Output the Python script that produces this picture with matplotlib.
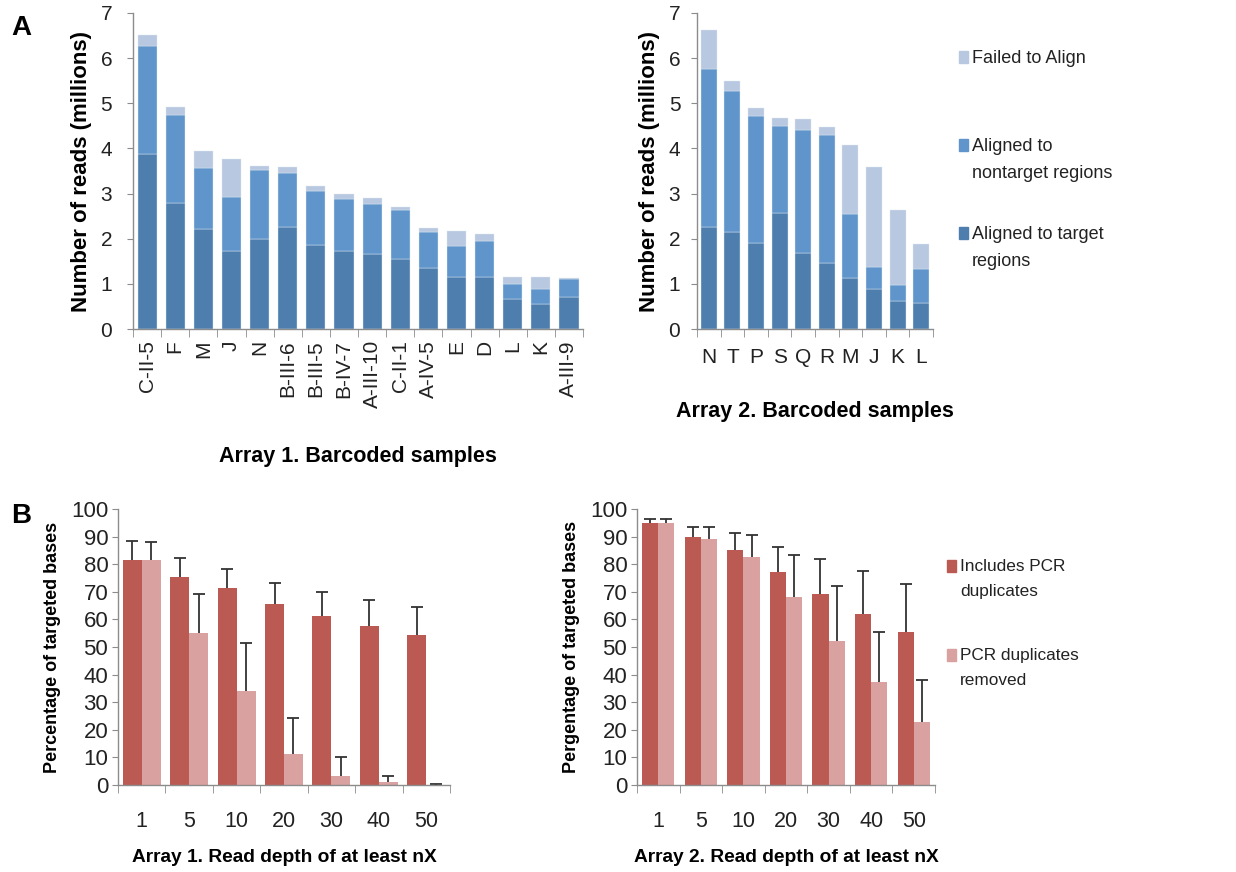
import matplotlib
matplotlib.use("Agg")
import matplotlib.pyplot as plt
import numpy as np
from matplotlib.patches import Rectangle

plt.rcParams['font.family'] = ['Liberation Sans', 'DejaVu Sans']

# ---- Data ----
a1_samples = ["C-II-5", "F", "M", "J", "N", "B-III-6", "B-III-5", "B-IV-7",
              "A-III-10", "C-II-1", "A-IV-5", "E", "D", "L", "K", "A-III-9"]
a1_target = [3.88, 2.80, 2.22, 1.72, 2.00, 2.27, 1.87, 1.72, 1.67, 1.56, 1.35, 1.16, 1.16, 0.66, 0.55, 0.70]
a1_nontarget = [2.40, 1.95, 1.34, 1.20, 1.52, 1.18, 1.18, 1.16, 1.11, 1.07, 0.80, 0.68, 0.79, 0.34, 0.33, 0.40]
a1_failed = [0.24, 0.17, 0.39, 0.84, 0.10, 0.13, 0.12, 0.12, 0.12, 0.07, 0.08, 0.32, 0.15, 0.16, 0.27, 0.03]

a2_samples = ["N", "T", "P", "S", "Q", "R", "M", "J", "K", "L"]
a2_target = [2.26, 2.14, 1.90, 2.58, 1.68, 1.47, 1.12, 0.88, 0.62, 0.58]
a2_nontarget = [3.49, 3.14, 2.82, 1.92, 2.72, 2.83, 1.43, 0.50, 0.35, 0.74]
a2_failed = [0.87, 0.22, 0.18, 0.17, 0.26, 0.18, 1.53, 2.20, 1.66, 0.56]

depths = ["1", "5", "10", "20", "30", "40", "50"]
b1_incl = [81.5, 75.3, 71.2, 65.6, 61.1, 57.5, 54.3]
b1_incl_err = [6.8, 6.9, 7.1, 7.7, 8.9, 9.6, 10.3]
b1_rem = [81.5, 55.2, 34.0, 11.2, 3.3, 1.0, 0.15]
b1_rem_err = [6.5, 14.0, 17.6, 13.1, 6.7, 2.2, 0.35]

b2_incl = [94.8, 89.8, 85.2, 77.0, 69.2, 62.0, 55.3]
b2_incl_err = [1.5, 3.7, 6.1, 9.4, 12.8, 15.7, 17.7]
b2_rem = [94.8, 89.0, 82.6, 68.2, 52.3, 37.3, 23.0]
b2_rem_err = [1.5, 4.3, 7.8, 15.2, 19.7, 18.3, 15.0]

# ---- Styling ----
C_TARGET = '#4d7eae'
C_NONTARGET = '#5f95cb'
C_FAILED = '#b7c8e0'
C_INCL = '#bb5a53'
C_REM = '#d9a19f'
AX_COL = '#8c8c8c'

W, H = 1236, 872
fig = plt.figure(figsize=(W / 100, H / 100), dpi=100)


def px_axes(l, r, t, b):
    return fig.add_axes([l / W, (H - b) / H, (r - l) / W, (b - t) / H])


def style(ax, ysize, ypad):
    for s in ['top', 'right']:
        ax.spines[s].set_visible(False)
    for s in ['left', 'bottom']:
        ax.spines[s].set_color(AX_COL)
        ax.spines[s].set_linewidth(1.0)
    ax.tick_params(axis='y', colors=AX_COL, labelcolor='#222222', length=4, labelsize=ysize, pad=ypad)
    ax.tick_params(axis='x', which='both', colors=AX_COL, labelcolor='#222222')


def stacked(ax, names, t, n, f, rot, xsize, ypad):
    x = np.arange(len(names))
    t = np.array(t); n = np.array(n); f = np.array(f)
    ax.bar(x, t, width=0.68, color=C_TARGET, edgecolor='#dfe8f2', linewidth=0.3)
    ax.bar(x, n, bottom=t, width=0.68, color=C_NONTARGET, edgecolor='#dfe8f2', linewidth=0.3)
    ax.bar(x, f, bottom=t + n, width=0.68, color=C_FAILED, edgecolor='#dfe8f2', linewidth=0.3)
    ax.set_xlim(-0.5, len(names) - 0.5)
    ax.set_ylim(0, 7)
    ax.set_yticks(range(0, 8))
    ax.set_xticks(x)
    ax.set_xticklabels(names, rotation=rot, fontsize=xsize)
    ax.tick_params(axis='x', which='major', length=0, pad=8)
    ax.set_xticks(np.arange(len(names) + 1) - 0.5, minor=True)
    ax.tick_params(axis='x', which='minor', length=6)
    ax.set_ylabel('Number of reads (millions)', fontsize=16, fontweight='bold', labelpad=6)
    style(ax, 15, ypad)


ax1 = px_axes(133, 583, 13, 329)
stacked(ax1, a1_samples, a1_target, a1_nontarget, a1_failed, 90, 15, 11)
ax1.set_xlabel('Array 1. Barcoded samples', fontsize=15.5, fontweight='bold', labelpad=27)

ax2 = px_axes(697, 933, 13, 329)
stacked(ax2, a2_samples, a2_target, a2_nontarget, a2_failed, 0, 15, 8)
ax2.tick_params(axis='x', which='major', pad=14)
ax2.set_xlabel('Array 2. Barcoded samples', fontsize=15.5, fontweight='bold', labelpad=24)


def grouped(ax, incl, ie, rem, re_, w, ylabel):
    x = np.arange(len(depths))
    ek = dict(fmt='none', ecolor='#333333', elinewidth=1.3, capsize=4, capthick=1.3, zorder=1)
    ax.bar(x - w / 2, incl, width=w, color=C_INCL, zorder=2)
    ax.bar(x + w / 2, rem, width=w, color=C_REM, zorder=2)
    ax.errorbar(x - w / 2, incl, yerr=ie, **ek)
    ax.errorbar(x + w / 2, rem, yerr=re_, **ek)
    ax.set_xlim(-0.5, len(depths) - 0.5)
    ax.set_ylim(0, 100)
    ax.set_yticks(range(0, 101, 10))
    ax.set_xticks(x)
    ax.set_xticklabels(depths, fontsize=15.5)
    ax.tick_params(axis='x', which='major', length=0, pad=19)
    ax.set_xticks(np.arange(len(depths) + 1) - 0.5, minor=True)
    ax.tick_params(axis='x', which='minor', length=6)
    ax.set_ylabel(ylabel, fontsize=13, fontweight='bold', labelpad=7)
    style(ax, 16, 3)


ax3 = px_axes(118, 450, 509, 785)
grouped(ax3, b1_incl, b1_incl_err, b1_rem, b1_rem_err, 0.4, 'Percentage of targeted bases')
ax3.set_xlabel('Array 1. Read depth of at least nX', fontsize=13.8, fontweight='bold', labelpad=12)

ax4 = px_axes(637, 935, 509, 785)
grouped(ax4, b2_incl, b2_incl_err, b2_rem, b2_rem_err, 0.38, 'Pergentage of targeted bases')
ax4.set_xlabel('Array 2. Read depth of at least nX', fontsize=13.8, fontweight='bold', labelpad=12)

# Panel letters
fig.text(11 / W, 1 - 28 / H, 'A', fontsize=20, fontweight='bold', va='center', ha='left')
fig.text(11 / W, 1 - 516 / H, 'B', fontsize=20, fontweight='bold', va='center', ha='left')


# Legends (manual)
def legend_item(xpx, ypx_center, color, text, size, ls, sqw=9, sqh=12):
    fig.patches.append(Rectangle((xpx / W, 1 - (ypx_center + sqh / 2 - 2) / H), sqw / W, sqh / H,
                                 transform=fig.transFigure, color=color, figure=fig))
    fig.text((xpx + sqw + 4) / W, 1 - (ypx_center - 9) / H, text, fontsize=size,
             va='top', ha='left', color='#222222', linespacing=ls)


legend_item(959, 59, C_FAILED, 'Failed to Align', 13, 1.8)
legend_item(959, 147, C_NONTARGET, 'Aligned to\nnontarget regions', 13, 1.8)
legend_item(959, 235, C_TARGET, 'Aligned to target\nregions', 13, 1.8)

legend_item(947, 568, C_INCL, 'Includes PCR\nduplicates', 12.4, 1.85)
legend_item(947, 657, C_REM, 'PCR duplicates\nremoved', 12.4, 1.85)

fig.savefig('out.png', dpi=100, facecolor='white')
